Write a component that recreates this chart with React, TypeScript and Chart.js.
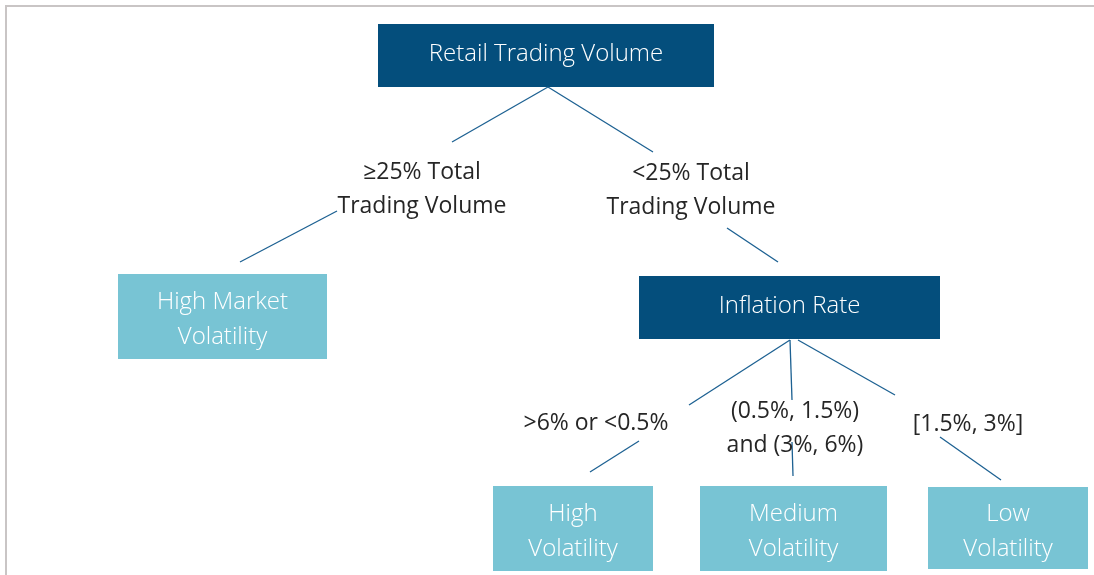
import React, { useEffect, useRef } from "react";
import { Chart, registerables } from "chart.js";

Chart.register(...registerables);

// ---- Data: tree nodes (boxes) ----
const nodeLabels: string[][] = [
  ["Retail Trading Volume"],
  ["High Market", "Volatility"],
  ["Inflation Rate"],
  ["High", "Volatility"],
  ["Medium", "Volatility"],
  ["Low", "Volatility"],
];
const nodeKind = ["decision", "leaf", "decision", "leaf", "leaf", "leaf"];
const nodeLeft = [378, 118, 639, 493, 700, 928];
const nodeRight = [714, 327, 940, 653, 887, 1088];
const nodeTop = [24, 274, 276, 486, 486, 487];
const nodeBottom = [87, 359, 339, 571, 571, 569];

// ---- Data: edges (connector segments) ----
const edgeX1 = [548, 548, 337, 727, 790, 790, 798, 639, 792, 940];
const edgeY1 = [87, 87, 211, 228, 340, 340, 340, 441, 442, 437];
const edgeX2 = [452, 653, 240, 778, 689, 792, 895, 590, 793, 1001];
const edgeY2 = [142, 152, 262, 262, 405, 400, 395, 472, 476, 480];

// ---- Data: edge condition labels ----
const condLabels: string[][] = [
  ["≥25% Total", "Trading Volume"],
  ["<25% Total", "Trading Volume"],
  [">6% or <0.5%"],
  ["(0.5%, 1.5%)", "and (3%, 6%)"],
  ["[1.5%, 3%]"],
];
const condX = [422, 691, 596, 795, 968];
const condY = [189, 190, 423, 428, 424];

const W = 1094;
const H = 575;
const DARK = "#044e7c";
const LIGHT = "#78c4d4";
const EDGE = "#1d6192";
const TEXT = "#262626";
const FONT = "'Open Sans', 'Noto Sans', sans-serif";

const treePlugin = {
  id: "treePlugin",
  beforeDatasetsDraw(chart: any) {
    const { ctx, scales } = chart;
    const xs = scales.x;
    const ys = scales.y;
    ctx.save();
    // frame
    ctx.strokeStyle = "#c9c5c5";
    ctx.lineWidth = 2;
    ctx.beginPath();
    ctx.moveTo(6, H);
    ctx.lineTo(6, 6);
    ctx.lineTo(W, 6);
    ctx.stroke();
    // boxes
    nodeLabels.forEach((lines, i) => {
      const l = xs.getPixelForValue(nodeLeft[i]);
      const r = xs.getPixelForValue(nodeRight[i]);
      const t = ys.getPixelForValue(nodeTop[i]);
      const b = ys.getPixelForValue(nodeBottom[i]);
      ctx.fillStyle = nodeKind[i] === "decision" ? DARK : LIGHT;
      ctx.fillRect(l, t, r - l, b - t);
    });
    ctx.restore();
  },
  afterDatasetsDraw(chart: any) {
    const { ctx, scales } = chart;
    const xs = scales.x;
    const ys = scales.y;
    ctx.save();
    ctx.textAlign = "center";
    ctx.textBaseline = "middle";
    // box text
    nodeLabels.forEach((lines, i) => {
      const cx = xs.getPixelForValue((nodeLeft[i] + nodeRight[i]) / 2);
      const cy =
        ys.getPixelForValue((nodeTop[i] + nodeBottom[i]) / 2) +
        (lines.length > 1 ? 3.5 : -1.5);
      const lh = 35;
      ctx.fillStyle = "#ffffff";
      ctx.font = `300 24px ${FONT}`;
      lines.forEach((s, k) => {
        ctx.fillText(s, cx, cy + (k - (lines.length - 1) / 2) * lh);
      });
    });
    // condition labels
    condLabels.forEach((lines, i) => {
      const cx = xs.getPixelForValue(condX[i]);
      const cy = ys.getPixelForValue(condY[i]);
      const lh = 34;
      ctx.fillStyle = TEXT;
      ctx.font = `400 23px ${FONT}`;
      lines.forEach((s, k) => {
        ctx.fillText(s, cx, cy + (k - (lines.length - 1) / 2) * lh);
      });
    });
    ctx.restore();
  },
};

export default function App() {
  const ref = useRef<HTMLCanvasElement | null>(null);
  useEffect(() => {
    document.body.style.margin = "0";
    if (!ref.current) return;
    const datasets = edgeX1.map((_, i) => ({
      type: "line" as const,
      data: [
        { x: edgeX1[i], y: edgeY1[i] },
        { x: edgeX2[i], y: edgeY2[i] },
      ],
      borderColor: EDGE,
      borderWidth: 1.3,
      pointRadius: 0,
      showLine: true,
      fill: false,
      tension: 0,
    }));
    const chart = new Chart(ref.current, {
      type: "scatter",
      data: { datasets },
      options: {
        animation: false,
        responsive: false,
        devicePixelRatio: 1,
        layout: { padding: 0 },
        plugins: { legend: { display: false }, tooltip: { enabled: false } },
        scales: {
          x: { type: "linear", min: 0, max: W, display: false },
          y: { type: "linear", min: 0, max: H, reverse: true, display: false },
        },
      },
      plugins: [treePlugin],
    });
    return () => chart.destroy();
  }, []);
  return (
    <div style={{ width: W, height: H, background: "#fff" }}>
      <canvas ref={ref} width={W} height={H} style={{ display: "block" }} />
    </div>
  );
}
